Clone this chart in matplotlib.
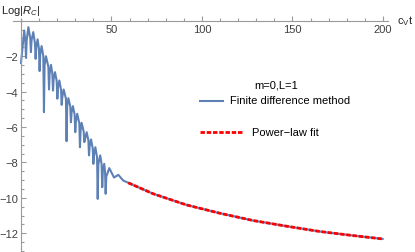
import matplotlib
matplotlib.use("Agg")
import matplotlib.pyplot as plt
from matplotlib.ticker import MultipleLocator, FixedLocator
from matplotlib.lines import Line2D

plt.rcParams['font.family'] = ['Liberation Sans', 'DejaVu Sans']
plt.rcParams['mathtext.fontset'] = 'custom'
plt.rcParams['mathtext.rm'] = 'Liberation Sans'
plt.rcParams['mathtext.it'] = 'Liberation Sans:italic'
plt.rcParams['lines.scale_dashes'] = False

# ---- data ----
# ringing part (finite difference method): cv*t and Log|R_C|
t_ring = [0.0, 1.8, 2.45, 2.8, 3.15, 4.1, 5.15, 5.5, 5.85, 6.8, 7.75, 8.1, 8.45,
          9.2, 9.95, 10.3, 10.65, 11.4, 12.35, 12.7, 13.05, 13.8, 15.15, 15.5,
          15.85, 16.6, 17.35, 17.7, 18.05, 18.8, 19.75, 20.1, 20.45, 21.2, 22.15,
          22.5, 22.85, 23.6, 24.85, 25.2, 25.55, 26.2, 27.25, 27.6, 27.95, 28.7,
          29.65, 30.0, 30.35, 31.1, 32.25, 32.6, 32.95, 33.5, 34.65, 35.0, 35.35,
          36.3, 37.25, 37.6, 37.95, 38.7, 39.65, 40.0, 40.35, 41.1, 42.05, 42.4,
          42.75, 43.8, 44.55, 44.9, 45.25, 46.0, 46.45, 46.8, 47.15, 48.8, 51.4,
          53.8, 56.5]
y_ring = [-2.4, -0.55, -1.2, -2.1, -1.1, -0.36, -1.0, -1.77, -1.1, -0.64, -1.3,
          -2.15, -1.5, -1.05, -1.6, -2.84, -1.9, -1.43, -2.0, -5.16, -2.5, -2.0,
          -2.6, -3.88, -3.0, -2.49, -3.0, -3.94, -3.3, -2.9, -3.4, -4.4, -3.8,
          -3.37, -3.9, -4.75, -4.3, -3.88, -4.4, -6.8, -4.8, -4.37, -4.85, -5.73,
          -5.2, -4.82, -5.3, -6.29, -5.7, -5.25, -5.8, -7.14, -6.2, -5.76, -6.25,
          -6.85, -6.7, -6.29, -6.75, -7.6, -7.1, -6.7, -7.2, -8.08, -7.6, -7.14,
          -7.7, -10.06, -8.1, -7.6, -8.1, -9.4, -8.5, -8.08, -8.5, -9.77, -8.8,
          -8.32, -8.85, -8.7, -9.02]
# late-time tail (both curves)
t_tail = [59.3, 73.1, 91.5, 110.0, 128.3, 146.8, 165.2, 183.6, 200.0]
y_tail = [-9.15, -9.77, -10.4, -10.87, -11.28, -11.6, -11.9, -12.13, -12.32]

x_major = [50, 100, 150, 200]
y_major = [-2, -4, -6, -8, -10, -12]

blue = (0.368, 0.507, 0.710)
red = (1.0, 0.0, 0.0)
axis_gray = '#9a9a9a'
label_gray = '#404040'

fig = plt.figure(figsize=(4.15, 2.53), dpi=100)
ax = fig.add_axes([13/415, 1/253, 375/415, 232/253])

ax.plot(t_ring + t_tail, y_ring + y_tail, color=blue, lw=1.5,
        solid_joinstyle='round', solid_capstyle='round')
ax.plot(t_tail, y_tail, color=red, lw=2.0, dashes=(3.2, 1.3))

ax.set_xlim(-4.4, 202.8)
ax.set_ylim(-13.0, 0.1)

for s in ['top', 'right']:
    ax.spines[s].set_visible(False)
ax.spines['left'].set_position(('data', 0))
ax.spines['bottom'].set_position(('data', 0))
for s in ['left', 'bottom']:
    ax.spines[s].set_color(axis_gray)
    ax.spines[s].set_linewidth(0.8)

ax.xaxis.set_major_locator(FixedLocator(x_major))
ax.xaxis.set_minor_locator(MultipleLocator(10))
ax.yaxis.set_major_locator(FixedLocator(y_major))
ax.yaxis.set_minor_locator(MultipleLocator(0.5))
ax.tick_params(which='both', direction='in', color=axis_gray, width=0.8,
               labelsize=8, labelcolor=label_gray)
ax.tick_params(which='major', length=3.5)
ax.tick_params(which='minor', length=2)
ax.tick_params(axis='x', pad=2)
ax.tick_params(axis='y', pad=2)

# axis labels
fig.text(1/415, 1 - 11/253, r'Log|$R_C$|', fontsize=8, color='#222222',
         ha='left', va='center')
fig.text(397/415, 1 - 21/253, r'c$_\mathrm{V}$t', fontsize=8, color='#222222',
         ha='left', va='center')

# legend (drawn manually, Mathematica style)
def fx(px):
    return px / 415
def fy(py):
    return 1 - py / 253

fig.text(fx(276), fy(86), 'm=0,L=1', fontsize=8, ha='center', va='center')
fig.add_artist(Line2D([fx(200), fx(223)], [fy(101.5), fy(101.5)],
                      transform=fig.transFigure, color=blue, lw=1.5))
fig.text(fx(230), fy(101.5), 'Finite difference method', fontsize=8,
         ha='left', va='center')
fig.add_artist(Line2D([fx(200), fx(242)], [fy(133), fy(133)],
                      transform=fig.transFigure, color=red, lw=2.0,
                      dashes=(3.2, 1.3)))
fig.text(fx(252), fy(133), 'Power\u2212law fit', fontsize=8, ha='left', va='center')

fig.savefig('out.png', dpi=100)
